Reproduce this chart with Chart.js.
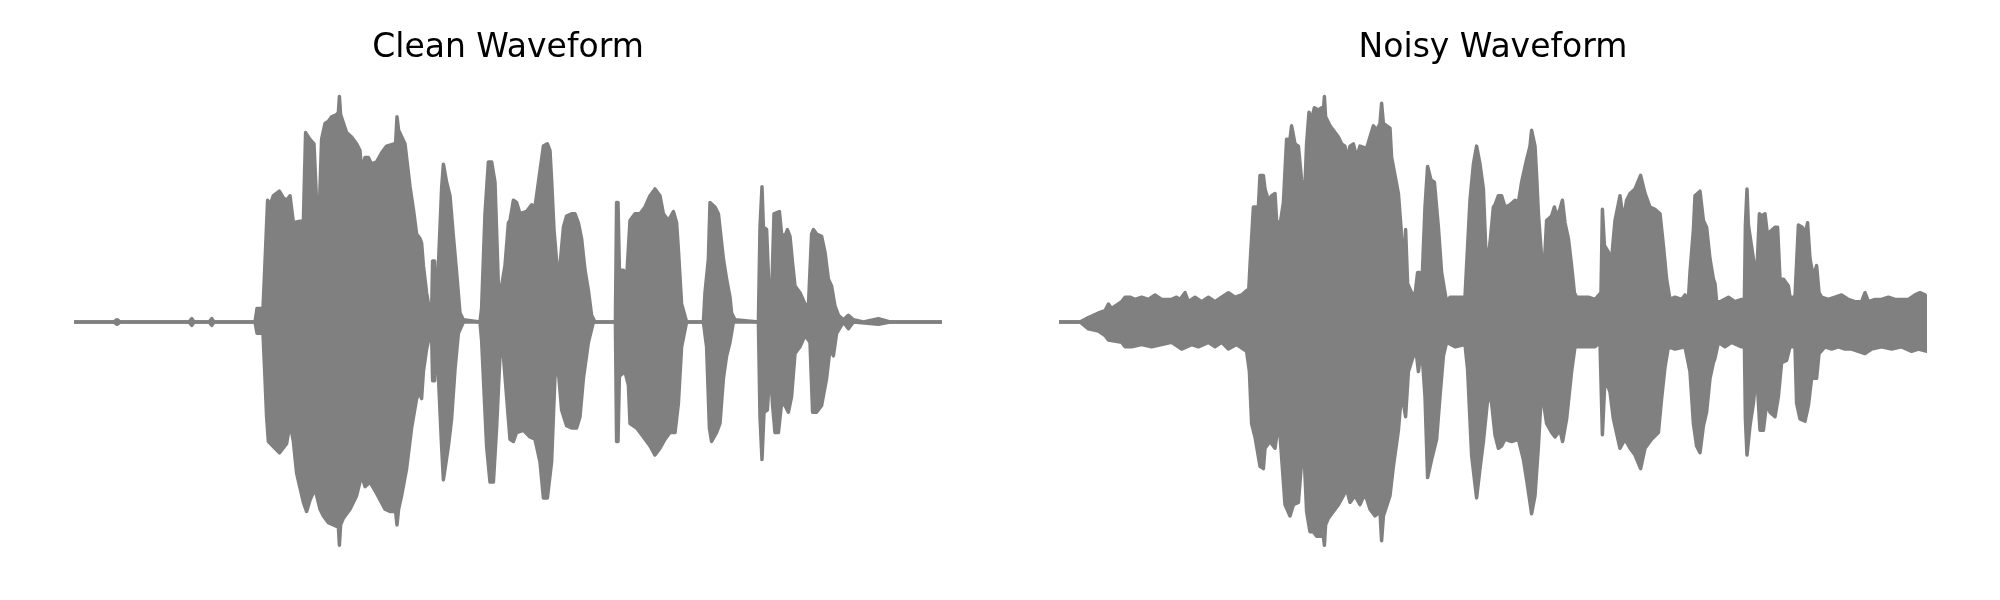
<!DOCTYPE html>
<html>
<head>
<meta charset="utf-8">
<title>Clean vs Noisy Waveform</title>
<script src="https://cdn.jsdelivr.net/npm/chart.js@4.4.1/dist/chart.umd.min.js"></script>
<style>
  html, body { margin: 0; padding: 0; background: #fff; }
  #wrap { position: relative; width: 2000px; height: 600px; }
  canvas { position: absolute; top: 0; }
</style>
</head>
<body>
<div id="wrap">
  <canvas id="cleanChart" width="1000" height="600" style="left:0"></canvas>
  <canvas id="noisyChart" width="1000" height="600" style="left:1000px"></canvas>
</div>
<script>
// Waveform envelopes: [time (s), amplitude]
const cleanTop = [
  [0,0],[0.2,0],[0.215,0.01],[0.23,0],[0.575,0],[0.589,0.015],[0.6,0],[0.675,0],[0.689,0.015],[0.7,0],
  [0.905,0],[0.915,0.06],[0.945,0.06],[0.952,0.2],[0.968,0.54],[0.98,0.52],[0.997,0.56],[1.027,0.58],[1.047,0.55],[1.063,0.54],[1.08,0.56],
  [1.097,0.44],[1.147,0.45],[1.158,0.84],[1.18,0.81],[1.2,0.79],[1.213,0.53],[1.227,0.51],[1.238,0.81],[1.255,0.88],[1.272,0.89],
  [1.288,0.91],[1.313,0.92],[1.322,0.93],[1.327,1.0],[1.333,0.92],[1.363,0.84],[1.388,0.82],[1.413,0.79],[1.43,0.76],[1.438,0.67],
  [1.455,0.73],[1.472,0.73],[1.488,0.7],[1.513,0.71],[1.538,0.75],[1.563,0.78],[1.6,0.79],[1.608,0.79],[1.615,0.91],[1.623,0.85],
  [1.655,0.79],[1.667,0.7],[1.68,0.6],[1.697,0.5],[1.713,0.39],[1.73,0.37],[1.738,0.35],[1.747,0.25],[1.763,0.13],[1.78,0.04],
  [1.788,0.04],[1.793,0.27],[1.803,0.27],[1.808,0.01],[1.822,0.25],[1.838,0.59],[1.847,0.7],[1.863,0.62],[1.88,0.56],[1.897,0.38],
  [1.913,0.22],[1.93,0.04],[1.947,0.01],[2.03,0],[2.038,0.06],[2.055,0.48],[2.072,0.71],[2.088,0.71],[2.105,0.62],[2.122,0.16],
  [2.138,0.16],[2.155,0.25],[2.172,0.44],
  [2.18,0.45],[2.197,0.54],[2.213,0.53],[2.23,0.48],[2.263,0.49],[2.288,0.52],[2.305,0.51],[2.322,0.62],[2.347,0.78],[2.367,0.79],
  [2.38,0.76],[2.388,0.63],[2.4,0.41],[2.417,0.23],[2.43,0.25],[2.447,0.42],[2.463,0.47],[2.488,0.48],[2.505,0.48],[2.522,0.44],
  [2.538,0.37],[2.555,0.23],[2.572,0.14],[2.588,0.03],[2.605,0],[2.707,0],[2.713,0.53],[2.72,0.53],[2.727,0.23],[2.747,0.23],
  [2.763,0.19],[2.78,0.45],[2.805,0.48],[2.83,0.48],[2.855,0.51],[2.88,0.56],[2.905,0.59],[2.93,0.56],[2.947,0.48],[2.972,0.45],
  [2.997,0.49],[3.013,0.44],[3.022,0.32],[3.038,0.08],[3.063,0],[3.147,0],[3.155,0.13],[3.172,0.28],[3.18,0.53],[3.205,0.51],
  [3.222,0.48],[3.247,0.28],[3.263,0.19],[3.28,0.11],
  [3.288,0.04],[3.305,0.01],[3.422,0],[3.43,0.42],[3.44,0.6],[3.447,0.42],[3.463,0.41],[3.477,0.1],[3.488,0.11],[3.5,0.48],
  [3.527,0.49],[3.538,0.39],[3.555,0.38],[3.567,0.41],[3.58,0.38],[3.593,0.26],[3.605,0.16],[3.63,0.13],[3.655,0.08],[3.672,0.07],
  [3.688,0.39],[3.697,0.41],[3.713,0.39],[3.738,0.38],[3.755,0.31],[3.772,0.19],[3.788,0.16],[3.805,0.07],[3.822,0.03],[3.847,0.01],
  [3.872,0.03],[3.897,0.01],[3.947,0],[4.022,0.015],[4.08,0],[4.34,0]
];

const cleanBottom = [
  [0,0],[0.2,0],[0.215,-0.01],[0.23,0],[0.575,0],[0.589,-0.015],[0.6,0],[0.675,0],[0.689,-0.015],[0.7,0],
  [0.905,0],[0.915,-0.05],[0.945,-0.05],[0.955,-0.25],[0.963,-0.42],[0.972,-0.53],[1.027,-0.58],[1.063,-0.54],[1.08,-0.45],
  [1.097,-0.53],[1.113,-0.67],[1.147,-0.8],[1.163,-0.84],[1.18,-0.79],[1.205,-0.74],[1.23,-0.83],[1.247,-0.86],[1.272,-0.89],
  [1.297,-0.9],[1.322,-0.91],[1.327,-0.99],[1.333,-0.9],[1.347,-0.87],[1.38,-0.83],[1.413,-0.77],[1.438,-0.68],[1.455,-0.73],
  [1.48,-0.71],[1.513,-0.76],[1.555,-0.83],[1.58,-0.84],[1.608,-0.84],[1.615,-0.9],[1.623,-0.83],[1.638,-0.77],[1.663,-0.65],
  [1.688,-0.47],[1.713,-0.34],[1.73,-0.31],[1.738,-0.34],[1.747,-0.22],[1.763,-0.12],[1.78,-0.05],[1.788,-0.05],[1.793,-0.26],
  [1.803,-0.26],[1.808,-0.05],[1.822,-0.24],[1.838,-0.55],[1.847,-0.7],[1.872,-0.55],[1.888,-0.43],[1.905,-0.21],[1.922,-0.05],
  [1.947,0],[2.03,0],[2.038,-0.08],[2.063,-0.55],[2.08,-0.71],[2.097,-0.71],[2.113,-0.47],[2.13,-0.15],[2.147,-0.15],[2.163,-0.33],
  [2.18,-0.52],[2.197,-0.53],[2.213,-0.49],[2.247,-0.48],[2.28,-0.51],[2.305,-0.52],[2.33,-0.62],[2.347,-0.78],[2.367,-0.78],
  [2.388,-0.62],[2.405,-0.24],[2.422,-0.22],[2.438,-0.39],[2.463,-0.46],[2.488,-0.47],[2.513,-0.47],[2.53,-0.42],[2.547,-0.25],
  [2.572,-0.09],[2.597,0],[2.707,0],[2.713,-0.53],[2.72,-0.53],[2.727,-0.24],[2.755,-0.22],[2.772,-0.28],[2.78,-0.45],[2.813,-0.47],
  [2.847,-0.51],[2.88,-0.55],[2.905,-0.59],[2.93,-0.56],[2.955,-0.52],[2.98,-0.49],[3.005,-0.49],[3.022,-0.36],[3.038,-0.11],
  [3.063,0],[3.147,0],[3.163,-0.11],[3.177,-0.47],[3.188,-0.53],[3.213,-0.49],[3.23,-0.45],[3.247,-0.25],[3.263,-0.15],[3.28,-0.09],
  [3.297,0],[3.422,0],[3.43,-0.42],[3.44,-0.61],[3.45,-0.4],[3.467,-0.39],[3.48,-0.19],[3.493,-0.37],[3.505,-0.49],[3.522,-0.49],
  [3.538,-0.36],[3.555,-0.37],[3.572,-0.4],[3.588,-0.33],[3.605,-0.14],[3.63,-0.11],[3.655,-0.06],[3.68,-0.09],[3.693,-0.4],
  [3.713,-0.4],[3.738,-0.37],[3.763,-0.25],[3.78,-0.12],[3.797,-0.15],[3.813,-0.05],[3.847,0],[3.872,-0.03],[3.897,0],
  [4.022,-0.01],[4.08,0],[4.34,0]
];

const noisyTop = [
  [0,0],[0.105,0],[0.147,0.02],[0.197,0.04],[0.23,0.05],[0.247,0.08],[0.263,0.06],[0.313,0.09],[0.33,0.11],[0.355,0.11],
  [0.38,0.1],[0.413,0.11],[0.447,0.1],[0.48,0.12],[0.513,0.1],[0.563,0.1],[0.588,0.11],[0.605,0.1],[0.63,0.13],[0.647,0.09],
  [0.68,0.11],[0.713,0.09],[0.747,0.11],[0.78,0.09],[0.813,0.11],[0.847,0.13],[0.88,0.11],[0.913,0.12],[0.938,0.14],[0.947,0.11],
  [0.955,0.25],[0.972,0.51],[0.997,0.51],[1.005,0.65],[1.022,0.65],[1.03,0.59],[1.047,0.54],[1.063,0.56],[1.08,0.57],
  [1.088,0.45],[1.105,0.43],[1.122,0.53],[1.138,0.81],[1.155,0.81],[1.163,0.87],[1.18,0.79],[1.197,0.78],[1.213,0.63],[1.227,0.54],
  [1.238,0.79],[1.25,0.93],[1.263,0.9],[1.277,0.95],[1.297,0.94],[1.313,0.95],[1.322,0.94],[1.327,1.0],[1.333,0.91],[1.355,0.87],
  [1.372,0.85],[1.397,0.82],[1.413,0.79],[1.43,0.78],[1.438,0.72],[1.455,0.78],[1.472,0.79],[1.488,0.73],[1.505,0.78],[1.538,0.77],
  [1.555,0.82],[1.572,0.87],[1.588,0.85],[1.605,0.88],[1.613,0.97],[1.622,0.88],[1.655,0.86],[1.663,0.73],[1.68,0.65],[1.697,0.57],
  [1.71,0.42],[1.722,0.22],[1.733,0.41],[1.743,0.17],[1.763,0.13],[1.78,0.12],[1.793,0.22],[1.803,0.22],[1.813,0.13],[1.83,0.51],
  [1.843,0.69],[1.86,0.63],[1.877,0.62],[1.897,0.42],[1.913,0.22],[1.93,0.13],[1.938,0.09],[1.955,0.11],[1.988,0.11],[2.013,0.11],
  [2.03,0.11],[2.038,0.25],[2.055,0.54],[2.072,0.7],[2.088,0.78],[2.105,0.7],[2.122,0.59],[2.138,0.23],[2.155,0.35],[2.172,0.51],
  [2.18,0.52],[2.197,0.56],[2.213,0.56],[2.23,0.51],[2.255,0.52],[2.28,0.54],[2.297,0.53],[2.313,0.62],[2.338,0.72],[2.355,0.78],
  [2.363,0.85],[2.38,0.78],[2.388,0.65],[2.397,0.48],[2.413,0.29],[2.427,0.26],[2.438,0.45],[2.463,0.47],[2.477,0.51],[2.488,0.47],
  [2.505,0.5],[2.517,0.54],[2.53,0.44],[2.547,0.37],[2.563,0.25],[2.577,0.13],[2.588,0.11],[2.647,0.11],[2.68,0.1],[2.71,0.13],
  [2.717,0.5],[2.727,0.34],[2.747,0.31],[2.76,0.25],[2.78,0.45],[2.805,0.56],[2.822,0.45],[2.838,0.54],[2.855,0.57],[2.88,0.59],
  [2.908,0.65],[2.93,0.57],[2.955,0.51],[2.98,0.5],[3.005,0.48],[3.022,0.34],[3.038,0.19],[3.055,0.1],[3.08,0.11],[3.113,0.1],
  [3.13,0.12],[3.147,0.1],[3.155,0.22],[3.172,0.41],[3.18,0.56],[3.205,0.58],[3.222,0.45],[3.238,0.42],[3.255,0.28],[3.272,0.19],
  [3.28,0.17],[3.288,0.09],[3.305,0.09],[3.347,0.11],[3.38,0.09],[3.413,0.1],[3.427,0.1],[3.432,0.43],[3.44,0.59],[3.447,0.43],
  [3.467,0.31],[3.488,0.19],[3.502,0.48],[3.513,0.47],[3.53,0.48],[3.543,0.38],[3.555,0.4],[3.58,0.42],[3.593,0.42],[3.605,0.19],
  [3.622,0.19],[3.647,0.16],[3.655,0.11],[3.68,0.11],[3.697,0.43],[3.717,0.42],[3.73,0.39],[3.743,0.44],[3.755,0.28],[3.772,0.2],
  [3.788,0.25],[3.8,0.13],[3.813,0.11],[3.847,0.1],[3.88,0.11],[3.913,0.12],[3.947,0.1],[3.98,0.09],[4.013,0.09],[4.03,0.13],
  [4.047,0.09],[4.08,0.1],[4.113,0.1],[4.147,0.11],[4.18,0.1],[4.213,0.1],[4.247,0.1],[4.28,0.12],[4.305,0.13],[4.33,0.12],[4.34,0.11]
];

const noisyBottom = [
  [0,0],[0.105,0],[0.147,-0.03],[0.197,-0.04],[0.23,-0.06],[0.247,-0.08],[0.313,-0.09],[0.33,-0.11],[0.363,-0.11],[0.413,-0.1],
  [0.463,-0.11],[0.513,-0.1],[0.563,-0.09],[0.613,-0.12],[0.663,-0.1],[0.697,-0.11],[0.747,-0.09],[0.78,-0.11],[0.813,-0.09],
  [0.847,-0.12],[0.888,-0.1],[0.938,-0.13],[0.952,-0.22],[0.963,-0.45],[0.98,-0.51],[1.005,-0.64],[1.022,-0.65],[1.03,-0.56],
  [1.055,-0.53],[1.08,-0.56],
  [1.097,-0.45],[1.105,-0.5],[1.13,-0.81],[1.155,-0.86],[1.172,-0.81],[1.197,-0.8],[1.222,-0.52],[1.238,-0.84],[1.255,-0.93],
  [1.272,-0.93],[1.288,-0.95],[1.322,-0.95],[1.327,-0.99],[1.333,-0.9],[1.347,-0.87],[1.372,-0.84],[1.397,-0.81],[1.422,-0.77],
  [1.438,-0.74],[1.455,-0.8],[1.48,-0.77],[1.505,-0.81],[1.53,-0.76],[1.555,-0.83],[1.58,-0.86],[1.605,-0.84],[1.613,-0.97],
  [1.622,-0.86],[1.655,-0.77],[1.672,-0.64],[1.697,-0.48],[1.713,-0.31],[1.733,-0.42],[1.747,-0.22],[1.772,-0.15],[1.788,-0.15],
  [1.797,-0.22],[1.813,-0.11],[1.83,-0.33],[1.843,-0.69],[1.863,-0.61],[1.888,-0.52],[1.905,-0.33],[1.922,-0.15],[1.938,-0.09],
  [1.98,-0.11],[2.03,-0.1],[2.043,-0.21],[2.063,-0.59],[2.08,-0.72],[2.088,-0.78],[2.105,-0.65],[2.122,-0.53],[2.147,-0.31],
  [2.163,-0.36],[2.18,-0.5],
  [2.197,-0.56],[2.213,-0.55],[2.23,-0.52],[2.263,-0.53],[2.297,-0.52],[2.322,-0.61],[2.338,-0.7],[2.355,-0.8],[2.363,-0.85],
  [2.38,-0.77],[2.397,-0.55],[2.413,-0.3],[2.438,-0.45],[2.463,-0.49],[2.48,-0.51],[2.505,-0.48],[2.518,-0.53],[2.538,-0.43],
  [2.563,-0.22],[2.58,-0.11],[2.68,-0.11],[2.705,-0.09],[2.717,-0.5],[2.73,-0.25],[2.755,-0.31],[2.772,-0.43],[2.805,-0.56],
  [2.83,-0.52],[2.855,-0.56],[2.88,-0.59],[2.908,-0.65],[2.93,-0.56],[2.963,-0.52],[2.997,-0.49],[3.013,-0.34],[3.03,-0.2],
  [3.047,-0.11],[3.08,-0.12],[3.13,-0.11],[3.155,-0.22],[3.172,-0.45],[3.188,-0.55],[3.205,-0.58],[3.222,-0.46],[3.238,-0.4],
  [3.255,-0.25],[3.272,-0.18],[3.28,-0.16],
  [3.297,-0.09],[3.33,-0.11],[3.363,-0.09],[3.413,-0.11],[3.427,-0.11],[3.432,-0.43],[3.44,-0.59],[3.455,-0.46],[3.472,-0.36],
  [3.488,-0.22],[3.505,-0.48],[3.522,-0.48],[3.538,-0.36],[3.555,-0.4],[3.58,-0.42],[3.597,-0.33],[3.613,-0.18],[3.638,-0.17],
  [3.655,-0.11],[3.68,-0.11],[3.688,-0.36],[3.705,-0.43],[3.73,-0.44],[3.747,-0.37],[3.763,-0.25],[3.788,-0.25],[3.8,-0.14],
  [3.83,-0.11],[3.863,-0.12],[3.897,-0.11],[3.93,-0.12],[3.963,-0.12],[4.03,-0.14],[4.063,-0.12],[4.113,-0.11],[4.163,-0.12],
  [4.213,-0.11],[4.263,-0.13],[4.297,-0.12],[4.34,-0.13]
];

const duration = 4.34;
const waveColor = '#808080';

Chart.defaults.font.family = '"DejaVu Sans", sans-serif';

function toPoints(pairs) {
    return pairs.map(p => ({ x: p[0], y: p[1] }));
}

// Each waveform is drawn as two filled lines: upper envelope and lower envelope, both filled to zero
function makeWaveChart(id, title, top, bottom, padLeft, padRight) {
    const ctx = document.getElementById(id).getContext('2d');
    return new Chart(ctx, {
        type: 'line',
        data: {
            datasets: [
                { data: toPoints(top), fill: 'origin' },
                { data: toPoints(bottom), fill: 'origin' }
            ]
        },
        options: {
            responsive: false,
            animation: false,
            devicePixelRatio: 1,
            events: [],
            layout: { padding: { left: padLeft, right: padRight, top: 0, bottom: 48 } },
            elements: {
                line: {
                    borderColor: waveColor,
                    backgroundColor: waveColor,
                    borderWidth: 3.5,
                    tension: 0,
                    borderJoinStyle: 'round',
                    borderCapStyle: 'round'
                },
                point: { radius: 0, hoverRadius: 0 }
            },
            plugins: {
                legend: { display: false },
                tooltip: { enabled: false },
                title: {
                    display: true,
                    text: title,
                    color: '#000000',
                    font: { size: 33, weight: 'normal' },
                    padding: { top: 28.5, bottom: 23.9 }
                }
            },
            scales: {
                x: { type: 'linear', min: 0, max: duration, display: false },
                y: { min: -1.02, max: 1.02, display: false }
            }
        }
    });
}

makeWaveChart('cleanChart', 'Clean Waveform', cleanTop, cleanBottom, 74, 58);
makeWaveChart('noisyChart', 'Noisy Waveform', noisyTop, noisyBottom, 59, 73);
</script>
</body>
</html>
